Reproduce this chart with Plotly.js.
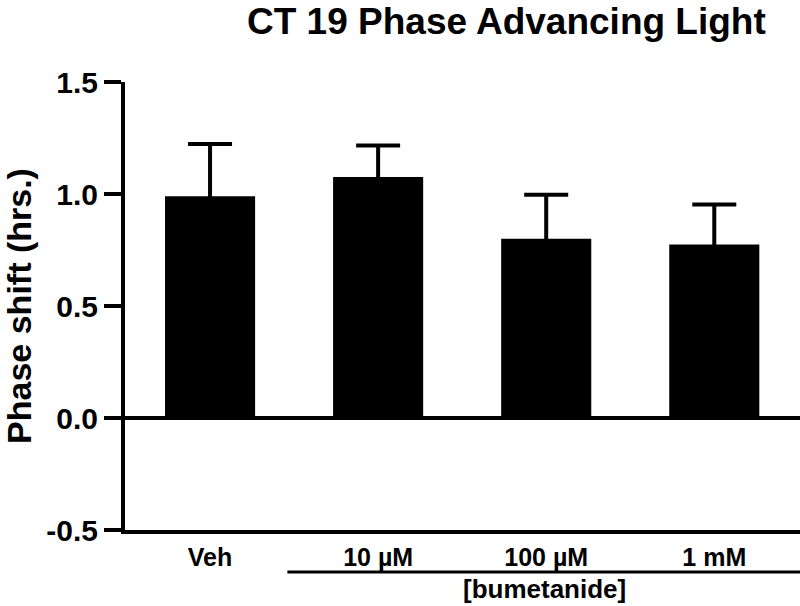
<!DOCTYPE html>
<html>
<head>
<meta charset="utf-8">
<script src="https://cdn.plot.ly/plotly-3.0.1.min.js"></script>
<style>html,body{margin:0;padding:0;background:#fff;}#chart{width:800px;height:606px;}</style>
</head>
<body>
<div id="chart"></div>
<script>
const categories = ["Veh", "10 µM", "100 µM", "1 mM"];
const phaseShift = [0.99, 1.076, 0.80, 0.774];
const errorUp = [0.233, 0.14, 0.197, 0.179];
const yTickVals = [-0.5, 0.0, 0.5, 1.0, 1.5];
const yTickText = ["-0.5", "0.0", "0.5", "1.0", "1.5"];
const groupLabel = "[bumetanide]";

const fontFam = "'Liberation Sans', Arial, sans-serif";

const trace = {
  type: "bar",
  x: categories,
  y: phaseShift,
  marker: {color: "#000000", line: {width: 0}},
  width: 0.536,
  error_y: {
    type: "data",
    symmetric: false,
    array: errorUp,
    // lower cap hidden inside the black bar
    arrayminus: categories.map(() => 0.012),
    color: "#000000",
    thickness: 4,
    width: 22
  },
  hoverinfo: "none"
};

const layout = {
  width: 800,
  height: 606,
  margin: {l: 125, r: 0, t: 82, b: 76},
  paper_bgcolor: "#ffffff",
  plot_bgcolor: "#ffffff",
  showlegend: false,
  title: {
    text: "<b>CT 19 Phase Advancing Light</b>",
    font: {family: fontFam, size: 37, color: "#000"},
    x: 0.633, xanchor: "center",
    y: 0.965, yanchor: "middle"
  },
  xaxis: {
    type: "category",
    range: [-0.506, 3.51],
    showline: true,
    linecolor: "#000",
    linewidth: 4,
    ticks: "",
    showgrid: false,
    zeroline: false,
    tickfont: {family: fontFam, size: 25, color: "#000", weight: "bold"},
    ticklabelstandoff: 2
  },
  yaxis: {
    range: [-0.5, 1.5],
    tickvals: yTickVals,
    ticktext: yTickText,
    showline: true,
    linecolor: "#000",
    linewidth: 4,
    ticks: "outside",
    ticklen: 17,
    tickwidth: 4,
    tickcolor: "#000",
    showgrid: false,
    zeroline: true,
    zerolinecolor: "#000",
    zerolinewidth: 4,
    tickfont: {family: fontFam, size: 30, color: "#000", weight: "bold"},
    title: {
      text: "<b>Phase shift (hrs.)</b>",
      font: {family: fontFam, size: 34, color: "#000"},
      standoff: 14
    }
  },
  shapes: [
    {type: "line", xref: "x", yref: "paper", x0: 0.46, x1: 3.51, y0: -0.094, y1: -0.094,
     line: {color: "#000", width: 3}}
  ],
  annotations: [
    {xref: "x", yref: "paper", x: 1.99, y: -0.132, text: "<b>" + groupLabel + "</b>",
     showarrow: false, xanchor: "center", yanchor: "middle",
     font: {family: fontFam, size: 26, color: "#000"}}
  ]
};

Plotly.newPlot("chart", [trace], layout, {staticPlot: true, displayModeBar: false});
</script>
</body>
</html>
